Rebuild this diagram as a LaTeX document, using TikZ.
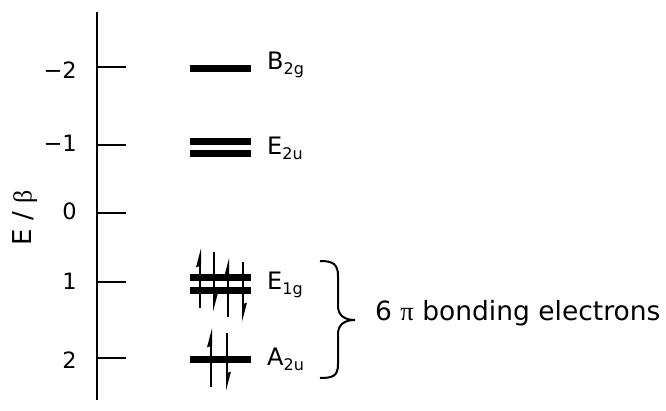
\documentclass[tikz,border=0pt]{standalone}
\usepackage{fontspec}
\setmainfont{DejaVu Sans}
\newfontfamily\greekfont{Liberation Serif}
\usetikzlibrary{arrows.meta}
\newcommand{\levsub}[1]{\raisebox{-5pt}{\fontsize{16}{16}\selectfont #1}}
\begin{document}
\begin{tikzpicture}[x=1pt,y=-1pt,
  ticklabel/.style={anchor=base east, font=\fontsize{22.5}{22.5}\selectfont, inner sep=0pt},
  levlabel/.style={anchor=base west, font=\fontsize{24}{24}\selectfont, inner sep=0pt},
  levelbar/.style={line width=7pt},
  axisline/.style={line width=2pt},
  spin/.style={line width=2pt, -{Stealth[harpoon, length=15pt, width=7.5pt, inset=1pt]}},
  bracestyle/.style={line width=2pt},
  ]
\useasboundingbox (0,0) rectangle (666,411);
% axis
\coordinate (atop) at (97,12);
\coordinate (abot) at (97,400);
\draw[axisline] (atop) -- (abot);
\foreach \y/\lab/\b [count=\i] in {66.7/{−2}/79, 145/{−1}/152, 213/0/220, 282/1/290, 358/2/368}{
  \coordinate (t\i a) at (97,\y);
  \coordinate (t\i b) at (126,\y);
  \draw[axisline] (t\i a) -- (t\i b);
  \node[ticklabel] (tl\i) at (77,\b) {\lab};
}
\node[rotate=90, font=\fontsize{26}{26}\selectfont, inner sep=0pt] (elab) at (25,218) {E / {\greekfont β}};
% levels
\draw[levelbar] (190,69) -- (251,69);
\draw[levelbar] (190,142) -- (251,142);
\draw[levelbar] (190,154) -- (251,154);
\draw[levelbar] (190,277.5) -- (251,277.5);
\draw[levelbar] (190,291) -- (251,291);
\draw[levelbar] (190,359.5) -- (251,359.5);
\node[levlabel] (b2g) at (267,70) {B\levsub{2g}};
\node[levlabel] (e2u) at (267,155) {E\levsub{2u}};
\node[levlabel] (e1g) at (267,290) {E\levsub{1g}};
\node[levlabel] (a2u) at (267,365) {A\levsub{2u}};
% spins
\draw[spin] (200,308) -- (200,248);
\draw[spin] (214,252) -- (214,312);
\draw[spin] (228,317) -- (228,258);
\draw[spin] (243,262) -- (243,322);
\draw[spin] (211,387) -- (211,328);
\draw[spin] (227,333) -- (227,391);
% brace
\coordinate (br1) at (320,261);
\coordinate (br2) at (355,320);
\coordinate (br3) at (320,378);
\draw[bracestyle] (br1) .. controls (333,261) and (338,264) .. (338,276) -- (338,306)
  .. controls (338,315) and (344,320) .. (br2)
  .. controls (344,320) and (338,325) .. (338,334) -- (338,364)
  .. controls (338,376) and (333,378) .. (br3);
\node[anchor=west, inner sep=0pt, font=\fontsize{26.5}{26.5}\selectfont] (cap) at (375,313) {6 {\greekfont π} bonding electrons};
\end{tikzpicture}
\end{document}
